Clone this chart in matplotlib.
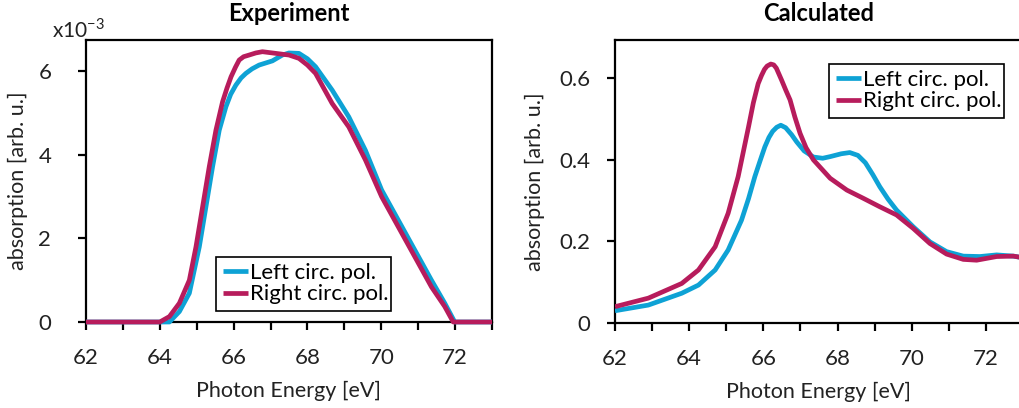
import matplotlib
matplotlib.use("Agg")
import matplotlib.pyplot as plt
from matplotlib.ticker import MultipleLocator

plt.rcParams['font.family'] = ['Lato', 'DejaVu Sans']

# Experiment (values in units of 1e-3)
exp_left_E = [62.0, 63.0, 64.0, 64.26, 64.53, 64.8, 65.07, 65.25, 65.43, 65.61, 65.79,
              65.92, 66.06, 66.2, 66.33, 66.5, 66.69, 67.05, 67.32, 67.5, 67.77, 68.0, 68.22, 68.67, 69.12,
              69.57, 70.01, 70.46, 70.91, 71.36, 71.72, 71.99, 72.5, 73.0]
exp_left_v = [0.0, 0.0, 0.0, 0.0, 0.25, 0.69, 1.8, 2.76, 3.72, 4.59, 5.15,
              5.45, 5.67, 5.84, 5.95, 6.06, 6.15, 6.25, 6.39, 6.44, 6.43, 6.3, 6.11, 5.55, 4.91,
              4.11, 3.16, 2.44, 1.72, 1.0, 0.45, 0.0, 0.0, 0.0]
exp_right_E = [62.0, 63.0, 64.0, 64.26, 64.53, 64.8, 64.98, 65.16, 65.34, 65.52, 65.7,
               65.82, 65.93, 66.05, 66.15, 66.27, 66.42, 66.6, 66.78, 67.14, 67.5, 67.77, 68.0, 68.22, 68.67, 69.12,
               69.57, 70.01, 70.46, 70.91, 71.36, 71.72, 71.95, 72.5, 73.0]
exp_right_v = [0.0, 0.0, 0.0, 0.13, 0.45, 1.0, 1.8, 2.76, 3.72, 4.59, 5.27,
               5.6, 5.87, 6.1, 6.27, 6.35, 6.39, 6.44, 6.47, 6.43, 6.39, 6.31, 6.15, 5.95, 5.23, 4.67,
               3.88, 3.0, 2.28, 1.56, 0.84, 0.37, 0.0, 0.0, 0.0]

# Calculated
calc_left_E = [62.0, 62.9, 63.8, 64.25, 64.7, 65.05, 65.41, 65.6, 65.77, 65.92, 66.04, 66.15, 66.25, 66.36, 66.47,
               66.6, 66.76, 66.9, 67.1, 67.35, 67.6, 67.8, 68.1, 68.33, 68.55,
               68.75, 68.95, 69.14, 69.36, 69.59, 70.04, 70.49, 70.94, 71.39, 71.84,
               72.29, 72.74, 73.0]
calc_left_v = [0.030, 0.044, 0.073, 0.093, 0.130, 0.179, 0.252, 0.305, 0.359, 0.400, 0.432, 0.455, 0.470, 0.480, 0.485,
               0.479, 0.462, 0.444, 0.422, 0.407, 0.404, 0.408, 0.415, 0.418, 0.411,
               0.393, 0.364, 0.334, 0.304, 0.277, 0.236, 0.199, 0.175, 0.164, 0.163,
               0.167, 0.164, 0.160]
calc_right_E = [62.0, 62.9, 63.8, 64.25, 64.7, 65.05, 65.32, 65.6, 65.73, 65.86, 65.95, 66.03, 66.1, 66.2,
                66.28, 66.35, 66.49, 66.6, 66.72, 66.85, 66.99, 67.15, 67.35, 67.8, 68.25, 68.69, 69.14, 69.59,
                70.04, 70.49, 70.94, 71.39, 71.75, 72.29, 72.74, 73.0]
calc_right_v = [0.040, 0.061, 0.097, 0.130, 0.187, 0.269, 0.359, 0.481, 0.540, 0.587, 0.607, 0.622, 0.630, 0.635,
                0.633, 0.625, 0.596, 0.572, 0.547, 0.505, 0.465, 0.430, 0.400, 0.355, 0.326, 0.306, 0.285, 0.265,
                0.232, 0.195, 0.169, 0.156, 0.154, 0.163, 0.164, 0.160]

labels = ["Left circ. pol.", "Right circ. pol."]
BLUE = "#0ea2d5"
RED = "#b71c5c"

fig = plt.figure(figsize=(10.2, 4.08), dpi=100)
ax1 = fig.add_axes([86/1020, 1-322/408, 406/1020, 282/408])
ax2 = fig.add_axes([615/1020, 1-323/408, 408/1020, 283/408])

TFS = 16
LFS = 15.5

def style(ax, ypad):
    for s in ax.spines.values():
        s.set_linewidth(1.6)
        s.set_color("black")
    ax.set_xlim(62, 73)
    ax.xaxis.set_major_locator(MultipleLocator(2))
    ax.xaxis.set_minor_locator(MultipleLocator(1))
    ax.tick_params(which='both', direction='out', length=6, width=1.6, labelsize=TFS,
                   colors='black', labelcolor='#222222')
    ax.tick_params(axis='x', which='both', pad=13)
    ax.tick_params(axis='y', pad=ypad)
    ax.set_xlabel("Photon Energy [eV]", fontsize=LFS, color='#222222', labelpad=9)
    ax.set_ylabel("absorption [arb. u.]", fontsize=LFS, color='#222222')

kw = dict(lw=3.4, solid_joinstyle='round', solid_capstyle='butt', zorder=3, clip_on=False)
ax1.plot(exp_left_E, exp_left_v, color=BLUE, label=labels[0], **kw)
ax1.plot(exp_right_E, exp_right_v, color=RED, label=labels[1], **kw)
style(ax1, 19)
ax1.set_ylim(0, 6.75)
ax1.yaxis.set_major_locator(MultipleLocator(2))
ax1.set_title("Experiment", fontsize=17, fontweight='bold', pad=14)
ax1.yaxis.set_label_coords(-0.143, 0.5)
leg_kw = dict(loc='lower left', mode='expand', fontsize=16, handlelength=1.15,
              handletextpad=0.1, borderaxespad=0, borderpad=0.3, labelspacing=0.05,
              fancybox=False, framealpha=1, edgecolor='black')
leg1 = ax1.legend(bbox_to_anchor=(216/1020, 1-311/408, 175/1020, 62/408),
                  bbox_transform=fig.transFigure, **leg_kw)
leg1.get_frame().set_linewidth(1.2)

ax2.plot(calc_left_E, calc_left_v, color=BLUE, label=labels[0], **{**kw, 'clip_on': True})
ax2.plot(calc_right_E, calc_right_v, color=RED, label=labels[1], **{**kw, 'clip_on': True})
style(ax2, 11.5)
ax2.set_ylim(0, 0.694)
ax2.set_yticks([0, 0.2, 0.4, 0.6])
ax2.set_yticklabels(["0", "0.2", "0.4", "0.6"])
ax2.set_title("Calculated", fontsize=17, fontweight='bold', pad=14)
ax2.yaxis.set_label_coords(-0.172, 0.5)
leg2 = ax2.legend(bbox_to_anchor=(829/1020, 1-118/408, 175/1020, 61/408),
                  bbox_transform=fig.transFigure, **leg_kw)
leg2.get_frame().set_linewidth(1.2)

fig.text(52/1020, 1-30/408, r"x10$^{\mathregular{-3}}$", fontsize=15, color='#222222',
         ha='left', va='center')

fig.savefig("out.png", dpi=100)
